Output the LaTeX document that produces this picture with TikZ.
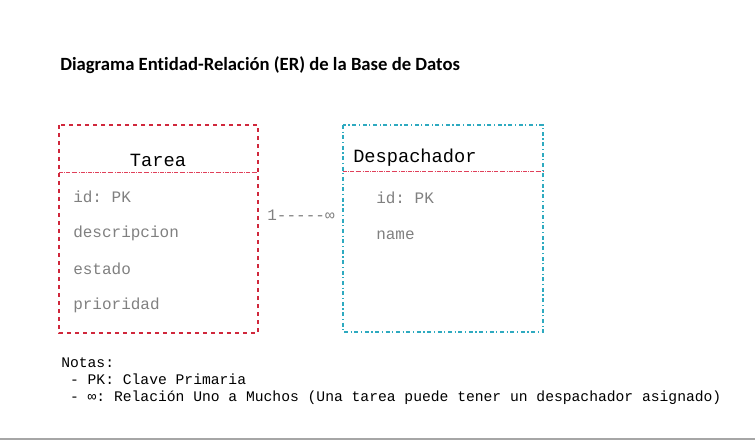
\documentclass[tikz,border=0pt]{standalone}
\usepackage{fontspec}
\setmainfont{Carlito}[RawFeature=-liga]
\setmonofont{Liberation Mono}
\usetikzlibrary{positioning}
\definecolor{entityred}{HTML}{D0283C}
\definecolor{entitycyan}{HTML}{2EAAC0}
\definecolor{sepred}{HTML}{E0405A}
\definecolor{fieldgray}{HTML}{808080}

\begin{document}
\begin{tikzpicture}[x=0.75pt, y=-0.75pt,
    entitybox/.style={line width=0.8pt},
    entitytitle/.style={font=\ttfamily\fontsize{14}{16}\selectfont, inner sep=0pt},
    field/.style={font=\ttfamily\fontsize{12}{14}\selectfont, text=fieldgray, anchor=west, inner sep=0pt},
    separator/.style={sepred, densely dash dot, line width=0.6pt}]
\useasboundingbox (0,0) rectangle (755,441);
\node[anchor=west, inner sep=0pt, font=\bfseries\fontsize{14}{17}\selectfont] (title) at (60,65) {Diagrama Entidad-Relación (ER) de la Base de Datos};
% Tarea
\draw[entitybox, entityred, dashed] (59,125) rectangle (258,333);
\node[entitytitle] (tarea) at (158,160) {Tarea};
\draw[separator] (59,172) -- (258,172);
\node[field] (tid) at (73,197) {id: PK};
\node[field] (tdesc) at (73,233) {descripcion};
\node[field] (testado) at (73,269) {estado};
\node[field] (tprio) at (73,305) {prioridad};
% Despachador
\draw[entitybox, entitycyan, dash dot] (343,125) rectangle (543,332);
\node[entitytitle, anchor=west] (desp) at (353,158) {Despachador};
\draw[separator] (343,171) -- (543,171);
\node[field] (did) at (376,198) {id: PK};
\node[field] (dname) at (376,235) {name};
% relacion
\node[field, anchor=center] (rel) at (301,215) {1-----∞};
% notas
\node[anchor=north west, align=left, inner sep=0pt, font=\ttfamily\fontsize{11}{13.1}\selectfont] (notas) at (61,357) {Notas:\\
~- PK: Clave Primaria\\
~- ∞: Relación Uno a Muchos (Una tarea puede tener un despachador asignado)};
\draw[fieldgray!70, line width=1.5pt] (0,438.5) -- (755,438.5);
\end{tikzpicture}
\end{document}
